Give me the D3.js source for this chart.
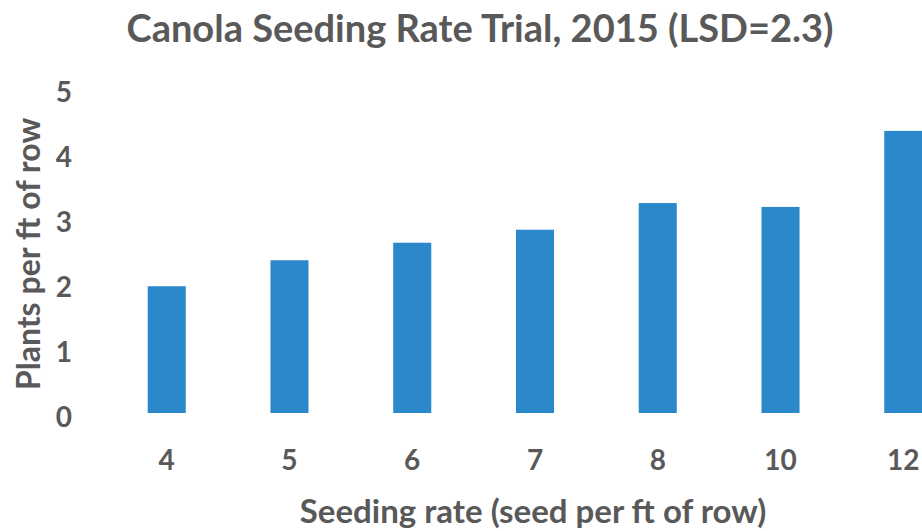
<!DOCTYPE html>
<html>
<head>
<meta charset="utf-8">
<script src="https://cdn.jsdelivr.net/npm/d3@7"></script>
<style>
  body { margin: 0; background: #fff; }
  text { font-family: Lato, "Open Sans", sans-serif; font-weight: bold; fill: #595959; }
</style>
</head>
<body>
<svg id="chart" width="922" height="531"></svg>
<script>
var rates = ["4", "5", "6", "7", "8", "10", "12"];
var plants = [1.95, 2.35, 2.62, 2.82, 3.23, 3.17, 4.34];
var yTicks = [0, 1, 2, 3, 4, 5];

var data = rates.map(function(r, i) { return {rate: r, value: plants[i]}; });

var svg = d3.select("#chart");

// plot area runs past the right edge, like the cropped original
var x = d3.scaleBand().domain(rates).range([63, 1007]).padding(0.69),
    y = d3.scaleLinear().domain([0, 5]).range([413, 88]);

svg.append("text")
    .attr("x", 480)
    .attr("y", 42)
    .attr("text-anchor", "middle")
    .style("font-size", "38px")
    .text("Canola Seeding Rate Trial, 2015 (LSD=2.3)");

var yAxis = svg.append("g")
    .attr("transform", "translate(78,0)")
    .call(d3.axisLeft(y).tickValues(yTicks).tickFormat(d3.format("d")).tickSize(0).tickPadding(6));
yAxis.select(".domain").remove();
yAxis.selectAll("text")
    .attr("dy", "0.38em")
    .attr("y", 3)
    .style("font-size", "28px")
    .style("font-family", null);

var xAxis = svg.append("g")
    .attr("transform", "translate(0,440)")
    .call(d3.axisBottom(x).tickSize(0).tickPadding(10));
xAxis.select(".domain").remove();
xAxis.selectAll("text")
    .style("font-size", "28px")
    .style("font-family", null);

svg.selectAll(".bar")
    .data(data)
    .enter().append("rect")
      .attr("class", "bar")
      .attr("x", function(d) { return x(d.rate); })
      .attr("y", function(d) { return y(d.value); })
      .attr("width", x.bandwidth())
      .attr("height", function(d) { return y(0) - y(d.value); })
      .attr("fill", "#2b88ca");

svg.append("text")
    .attr("x", 533)
    .attr("y", 523)
    .attr("text-anchor", "middle")
    .style("font-size", "33px")
    .text("Seeding rate (seed per ft of row)");

svg.append("text")
    .attr("transform", "translate(40,254) rotate(-90)")
    .attr("text-anchor", "middle")
    .style("font-size", "32px")
    .text("Plants per ft of row");
</script>
</body>
</html>
